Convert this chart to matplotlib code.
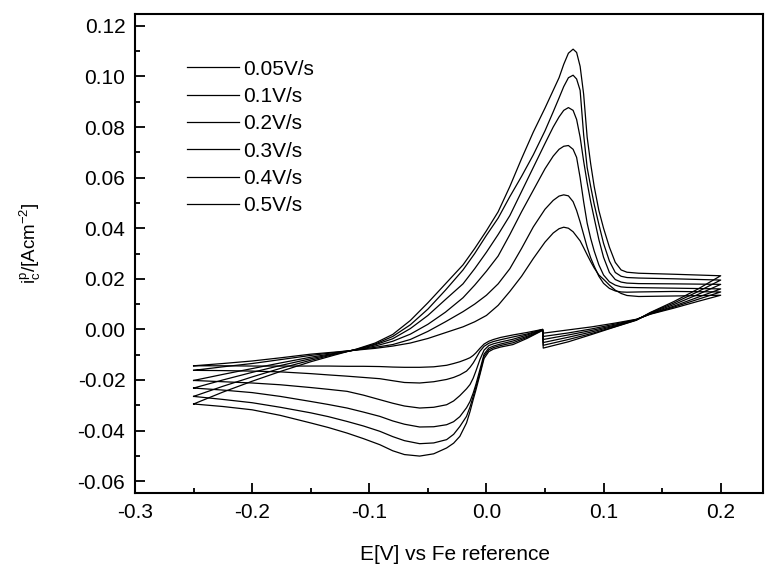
import matplotlib
matplotlib.use("Agg")
import matplotlib.pyplot as plt
from matplotlib.ticker import MultipleLocator, FormatStrFormatter

plt.rcParams['font.family'] = ['Liberation Sans', 'DejaVu Sans']
plt.rcParams['mathtext.fontset'] = 'custom'
plt.rcParams['mathtext.rm'] = 'Liberation Sans'
plt.rcParams['mathtext.it'] = 'Liberation Sans'
plt.rcParams['axes.unicode_minus'] = False

# scan rates (legend labels)
scan_rates = ["0.05V/s", "0.1V/s", "0.2V/s", "0.3V/s", "0.4V/s", "0.5V/s"]

# forward (anodic) sweep, -0.25 -> 0.2 V
x_up = [-0.25, -0.225, -0.2, -0.175, -0.15, -0.13, -0.111, -0.095, -0.08, -0.065,
        -0.05, -0.035, -0.02, -0.01, 0.0, 0.01, 0.02, 0.03, 0.04, 0.05,
        0.057, 0.062, 0.066, 0.07, 0.074, 0.077, 0.08, 0.083, 0.086, 0.089,
        0.092, 0.096, 0.1, 0.105, 0.11, 0.115, 0.12, 0.13, 0.16, 0.2]

up_005 = [-0.0144, -0.0135, -0.0125, -0.0112, -0.0098, -0.0090, -0.0082, -0.0075, -0.0066, -0.0054,
          -0.0036, -0.0013, 0.0010, 0.0030, 0.0055, 0.0095, 0.0150, 0.0210, 0.0280, 0.0345,
          0.0381, 0.0398, 0.0404, 0.0400, 0.0386, 0.0368, 0.0350, 0.0323, 0.0295, 0.0268,
          0.0243, 0.0215, 0.0198, 0.0175, 0.0155, 0.0142, 0.0134, 0.0130, 0.0132, 0.0135]
up_01 = [-0.0162, -0.0148, -0.0135, -0.0119, -0.0103, -0.0092, -0.0081, -0.0071, -0.0060, -0.0040,
         -0.0008, 0.0030, 0.0070, 0.0100, 0.0135, 0.0180, 0.0240, 0.0320, 0.0405, 0.0475,
         0.0510, 0.0527, 0.0532, 0.0528, 0.0505, 0.0470, 0.0425, 0.0375, 0.0325, 0.0283,
         0.0250, 0.0210, 0.0182, 0.0162, 0.0152, 0.0148, 0.0147, 0.0148, 0.0150, 0.0148]
up_02 = [-0.0202, -0.0178, -0.0155, -0.0132, -0.0110, -0.0095, -0.0081, -0.0066, -0.0047, -0.0019,
         0.0020, 0.0068, 0.0125, 0.0175, 0.0230, 0.0290, 0.0375, 0.0465, 0.0550, 0.0635,
         0.0685, 0.0712, 0.0724, 0.0727, 0.0712, 0.0680, 0.0600, 0.0505, 0.0420, 0.0360,
         0.0310, 0.0255, 0.0215, 0.0188, 0.0175, 0.0168, 0.0166, 0.0165, 0.0163, 0.0160]
up_03 = [-0.0232, -0.0200, -0.0170, -0.0142, -0.0116, -0.0097, -0.0080, -0.0061, -0.0037, 0.0003,
         0.0055, 0.0118, 0.0180, 0.0240, 0.0305, 0.0375, 0.0450, 0.0545, 0.0640, 0.0735,
         0.0800, 0.0840, 0.0866, 0.0877, 0.0866, 0.0830, 0.0760, 0.0665, 0.0580, 0.0505,
         0.0440, 0.0355, 0.0285, 0.0225, 0.0197, 0.0187, 0.0183, 0.0181, 0.0180, 0.0178]
up_04 = [-0.0265, -0.0225, -0.0188, -0.0153, -0.0122, -0.0099, -0.0079, -0.0058, -0.0028, 0.0018,
         0.0080, 0.0155, 0.0235, 0.0300, 0.0372, 0.0440, 0.0525, 0.0605, 0.0690, 0.0785,
         0.0860, 0.0915, 0.0960, 0.0995, 0.1005, 0.0990, 0.0945, 0.0770, 0.0640, 0.0565,
         0.0495, 0.0415, 0.0340, 0.0270, 0.0225, 0.0210, 0.0205, 0.0203, 0.0200, 0.0195]
up_05 = [-0.0295, -0.0248, -0.0205, -0.0165, -0.0128, -0.0102, -0.0078, -0.0054, -0.0020, 0.0035,
         0.0105, 0.0180, 0.0255, 0.0320, 0.0390, 0.0465, 0.0565, 0.0675, 0.0780, 0.0875,
         0.0945, 0.0995, 0.1048, 0.1092, 0.1108, 0.1095, 0.1040, 0.0930, 0.0760, 0.0655,
         0.0565, 0.0470, 0.0400, 0.0325, 0.0265, 0.0235, 0.0226, 0.0222, 0.0218, 0.0212]

# reverse (cathodic) sweep, 0.2 -> -0.25 V
x_down = [0.2, 0.18, 0.16, 0.14, 0.128, 0.11, 0.09, 0.07, 0.0485, 0.048,
          0.035, 0.0227, 0.012, 0.006, 0.002, -0.002, -0.0056, -0.009, -0.0113, -0.014,
          -0.017, -0.0227, -0.028, -0.034, -0.045, -0.057, -0.07, -0.08, -0.091, -0.105,
          -0.119, -0.135, -0.15, -0.176, -0.2, -0.225, -0.25]

down_005 = [0.0135, 0.0110, 0.0084, 0.0060, 0.0040, 0.0025, 0.0010, -0.0002, -0.0015, 0.0,
            -0.0012, -0.0022, -0.0032, -0.0040, -0.0047, -0.0058, -0.0075, -0.0093, -0.0103, -0.0112,
            -0.0118, -0.0128, -0.0135, -0.0142, -0.0148, -0.0150, -0.0150, -0.0149, -0.0147, -0.0146,
            -0.0146, -0.0145, -0.0145, -0.0145, -0.0145, -0.0144, -0.0144]
down_01 = [0.0148, 0.0118, 0.0088, 0.0061, 0.0039, 0.0021, 0.0002, -0.0014, -0.0028, 0.0,
           -0.0018, -0.0030, -0.0041, -0.0048, -0.0055, -0.0067, -0.0087, -0.0115, -0.0133, -0.0150,
           -0.0165, -0.0180, -0.0190, -0.0198, -0.0207, -0.0212, -0.0210, -0.0203, -0.0195, -0.0190,
           -0.0185, -0.0180, -0.0175, -0.0168, -0.0165, -0.0163, -0.0162]
down_02 = [0.0160, 0.0126, 0.0092, 0.0062, 0.0038, 0.0017, -0.0004, -0.0022, -0.0040, -0.0001,
           -0.0022, -0.0039, -0.0050, -0.0057, -0.0064, -0.0082, -0.0120, -0.0165, -0.0193, -0.0218,
           -0.0235, -0.0262, -0.0283, -0.0298, -0.0308, -0.0311, -0.0303, -0.0292, -0.0278, -0.0260,
           -0.0245, -0.0237, -0.0230, -0.0219, -0.0212, -0.0207, -0.0202]
down_03 = [0.0178, 0.0137, 0.0098, 0.0064, 0.0038, 0.0014, -0.0010, -0.0031, -0.0052, -0.0002,
           -0.0027, -0.0046, -0.0058, -0.0066, -0.0074, -0.0098, -0.0160, -0.0218, -0.0252, -0.0285,
           -0.0310, -0.0345, -0.0365, -0.0377, -0.0385, -0.0386, -0.0375, -0.0362, -0.0344, -0.0327,
           -0.0311, -0.0297, -0.0285, -0.0265, -0.0250, -0.0240, -0.0232]
down_04 = [0.0195, 0.0148, 0.0104, 0.0066, 0.0037, 0.0011, -0.0016, -0.0040, -0.0063, -0.0003,
           -0.0031, -0.0053, -0.0064, -0.0072, -0.0081, -0.0106, -0.0173, -0.0228, -0.0265, -0.0307,
           -0.0344, -0.0384, -0.0415, -0.0436, -0.0449, -0.0452, -0.0440, -0.0424, -0.0403, -0.0382,
           -0.0364, -0.0345, -0.0330, -0.0308, -0.0290, -0.0277, -0.0265]
down_05 = [0.0212, 0.0158, 0.0110, 0.0067, 0.0036, 0.0010, -0.0020, -0.0049, -0.0074, -0.0004,
           -0.0035, -0.0060, -0.0070, -0.0078, -0.0088, -0.0115, -0.0180, -0.0240, -0.0278, -0.0325,
           -0.0370, -0.0423, -0.0450, -0.0469, -0.0492, -0.0501, -0.0495, -0.0480, -0.0456, -0.0432,
           -0.0410, -0.0388, -0.0370, -0.0340, -0.0318, -0.0305, -0.0295]

ups = [up_005, up_01, up_02, up_03, up_04, up_05]
downs = [down_005, down_01, down_02, down_03, down_04, down_05]

fig = plt.figure(figsize=(7.69, 5.67), dpi=100)
ax = fig.add_axes([0.1756, 0.1305, 0.8164, 0.8448])

for label, yu, yd in zip(scan_rates, ups, downs):
    ax.plot(x_up + x_down, yu + yd, color='black', lw=0.9, label=label)

ax.set_xlim(-0.3, 0.236)
ax.set_ylim(-0.0647, 0.1247)
ax.xaxis.set_major_locator(MultipleLocator(0.1))
ax.xaxis.set_minor_locator(MultipleLocator(0.05))
ax.yaxis.set_major_locator(MultipleLocator(0.02))
ax.yaxis.set_minor_locator(MultipleLocator(0.01))
ax.xaxis.set_major_formatter(FormatStrFormatter('%.1f'))
ax.yaxis.set_major_formatter(FormatStrFormatter('%.2f'))

ax.tick_params(which='both', direction='in', top=False, right=False, width=1.3, labelsize=15, pad=7)
ax.tick_params(which='major', length=7)
ax.tick_params(which='minor', length=3.6)
for sp in ax.spines.values():
    sp.set_linewidth(1.5)

ax.set_xlabel('E[V] vs Fe reference', fontsize=15)
ax.set_ylabel(r'$\mathrm{i}^{\mathrm{p}}_{\mathrm{c}}$/[Acm$^{-2}$]', fontsize=13.5)
ax.xaxis.set_label_coords(0.51, -0.108)
ax.yaxis.set_label_coords(-0.147, 0.522)

ax.legend(loc='upper left', bbox_to_anchor=(0.0828, 0.905), frameon=False,
          fontsize=15, handlelength=2.5, handletextpad=0.2, labelspacing=0.4,
          borderpad=0, borderaxespad=0)

plt.savefig('out.png', dpi=100)
plt.close()
